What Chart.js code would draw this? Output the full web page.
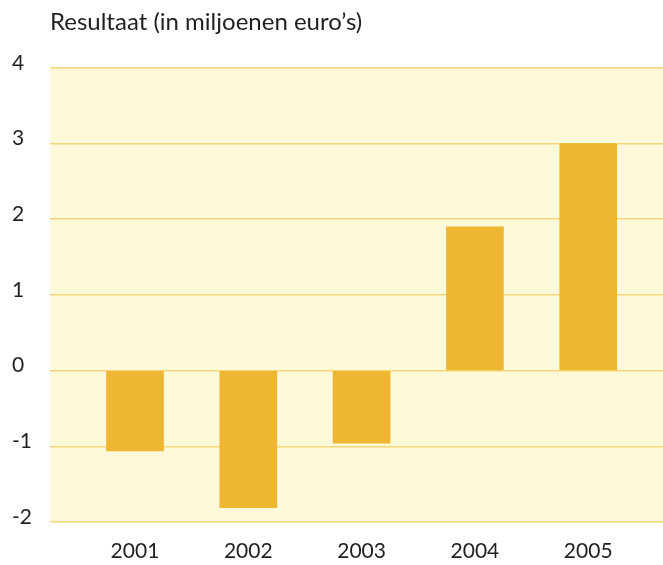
<!DOCTYPE html>
<html>
<head>
<meta charset="utf-8">
<script src="https://cdn.jsdelivr.net/npm/chart.js@4"></script>
<style>
  html, body { margin: 0; padding: 0; background: #fff; }
  #wrap { width: 663px; height: 565px; }
</style>
</head>
<body>
<div id="wrap"><canvas id="resultChart" width="663" height="565"></canvas></div>
<script>
// Resultaat per jaar
const years = [2001, 2002, 2003, 2004, 2005]
const results = [-1.06, -1.81, -0.96, 1.9, 3.0]
const yTicks = [-2, -1, 0, 1, 2, 3, 4]

const textColor = '#231f20'
const fontFamily = 'Lato, "Open Sans", sans-serif'

// gele achtergrond achter het plotgebied
const plotBackground = {
  id: 'plotBackground',
  beforeDraw(chart) {
    const a = chart.chartArea
    const c = chart.ctx
    c.save()
    c.fillStyle = '#fef9d8'
    c.fillRect(a.left, a.top, a.right - a.left, a.bottom - a.top)
    c.restore()
  }
}

const ctx = document.getElementById('resultChart')
new Chart(ctx, {
  type: 'bar',
  data: {
    datasets: [{
      data: years.map((y, i) => ({ x: y, y: results[i] })),
      backgroundColor: '#efb632',
      borderWidth: 0,
      barThickness: 57
    }]
  },
  options: {
    responsive: false,
    animation: false,
    layout: { padding: { left: 12, right: 0, top: 8, bottom: 0 } },
    plugins: {
      legend: { display: false },
      tooltip: { enabled: false },
      title: {
        display: true,
        text: 'Resultaat (in miljoenen euro\u2019s)',
        align: 'start',
        fullSize: false,
        color: textColor,
        font: { family: fontFamily, size: 24, weight: 'normal' },
        padding: { top: 0, bottom: 31 }
      }
    },
    scales: {
      x: {
        type: 'linear',
        offset: false,
        min: 2000.25,
        max: 2005.66,
        afterBuildTicks: s => { s.ticks = years.map(v => ({ value: v })) },
        afterFit: s => { s.height = 43 },
        grid: { display: false, drawTicks: false, offset: false },
        border: { display: false },
        ticks: {
          color: textColor,
          font: { family: fontFamily, size: 21 },
          padding: 17,
          callback: v => String(v)
        }
      },
      y: {
        min: -2,
        max: 4,
        afterBuildTicks: s => { s.ticks = yTicks.map(v => ({ value: v })) },
        afterFit: s => { s.width = 38 },
        grid: { color: '#f8d77a', lineWidth: 1.5, drawTicks: false },
        border: { display: false },
        ticks: {
          color: textColor,
          font: { family: fontFamily, size: 21 },
          crossAlign: 'far',
          labelOffset: -5,
          padding: 0
        }
      }
    }
  },
  plugins: [plotBackground]
})
</script>
</body>
</html>
